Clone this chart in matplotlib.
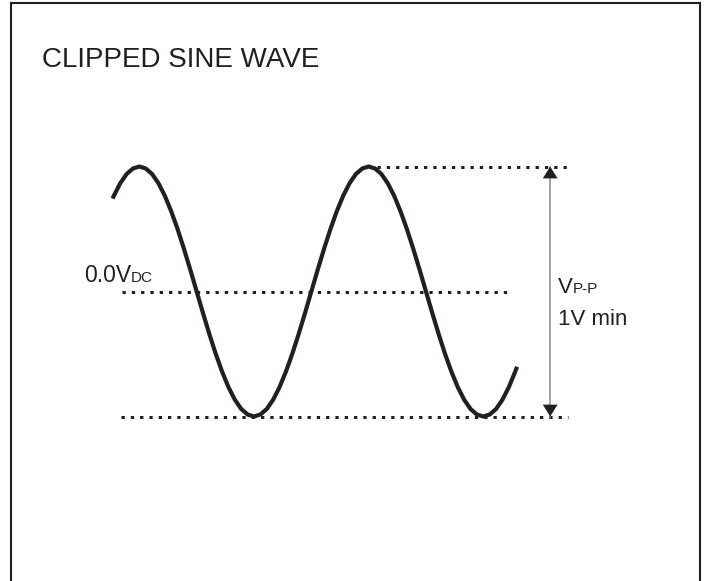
import matplotlib
matplotlib.use('Agg')
import matplotlib.pyplot as plt

# waveform: phase in degrees, level in volts
phase = [48, 50, 60, 70, 80, 90, 100, 110, 120, 130, 140, 150, 160, 170,
         180, 190, 200, 210, 220, 230, 240, 250, 260, 270, 280, 290, 300,
         310, 320, 330, 340, 350, 360, 370, 380, 390, 400, 410, 420, 430,
         440, 450, 460, 470, 480, 490, 500, 510, 520, 530, 540, 550, 560,
         570, 580, 590, 600, 610, 620, 630, 640, 650, 660, 670, 680, 683]
volts = [0.372, 0.383, 0.433, 0.470, 0.492, 0.500, 0.492, 0.470, 0.433,
         0.383, 0.321, 0.250, 0.171, 0.087, 0.000, -0.087, -0.171, -0.250,
         -0.321, -0.383, -0.433, -0.470, -0.492, -0.500, -0.492, -0.470,
         -0.433, -0.383, -0.321, -0.250, -0.171, -0.087, 0.000, 0.087,
         0.171, 0.250, 0.321, 0.383, 0.433, 0.470, 0.492, 0.500, 0.492,
         0.470, 0.433, 0.383, 0.321, 0.250, 0.171, 0.087, 0.000, -0.087,
         -0.171, -0.250, -0.321, -0.383, -0.433, -0.470, -0.492, -0.500,
         -0.492, -0.470, -0.433, -0.383, -0.321, -0.301]

v_peak = 0.5
v_dc = 0.0
v_trough = -0.5

title = 'CLIPPED SINE WAVE'
dc_label = ('0.0V', 'DC')
pp_label = ('V', 'P-P')
min_label = '1V min'

ink = '#231f20'
plt.rcParams['font.family'] = ['Liberation Sans', 'DejaVu Sans']

fig = plt.figure(figsize=(7.07, 5.81), dpi=100)
fig.patch.set_facecolor('white')

# the frame is the axes box, bottom edge runs off the page
ax = fig.add_axes([11 / 707, -0.02, 689 / 707, 1.0148])
ax.set_xlim(-111.5, 970.2)
ax.set_ylim(-1.2044, 1.154)
ax.set_xticks([])
ax.set_yticks([])
ax.spines['bottom'].set_visible(False)
for side in ['top', 'left', 'right']:
    ax.spines[side].set_color(ink)
    ax.spines[side].set_linewidth(1.5)

# wave
ax.plot(phase, volts, color=ink, linewidth=3.0, solid_capstyle='butt',
        solid_joinstyle='round')

# dotted reference levels
dots = dict(color=ink, linewidth=2.16, linestyle=(0, (1.1, 2.0)),
            dash_capstyle='butt')
ax.plot([463, 763], [v_peak, v_peak], **dots)
ax.plot([62.8, 672], [v_dc, v_dc], **dots)
ax.plot([61, 763], [v_trough, v_trough], **dots)

# peak-to-peak arrow: grey shaft, black heads
ax.plot([735, 735], [v_peak, v_trough], color='#8a8a8a', linewidth=1.1)
head = dict(arrowstyle='-|>,head_length=0.45,head_width=0.28', fc=ink,
            ec=ink, lw=0, shrinkA=0, shrinkB=0, mutation_scale=19)
ax.annotate('', xy=(735, v_peak), xytext=(735, v_dc), arrowprops=head)
ax.annotate('', xy=(735, v_trough), xytext=(735, v_dc), arrowprops=head)

# labels
ax.text(-62.8, 0.898, title, fontsize=20, color=ink, va='baseline')

t0 = ax.text(3.1, 0.038, dc_label[0], fontsize=16.5, color=ink, va='baseline')
ax.annotate(dc_label[1], xy=(1, 0), xycoords=t0, xytext=(0, 0.21 * 16.5),
            textcoords='offset points', fontsize=11, color=ink, va='baseline')

t1 = ax.text(747, -0.006, pp_label[0], fontsize=16, color=ink, va='baseline')
ax.annotate(pp_label[1], xy=(1, 0), xycoords=t1, xytext=(0, 0.21 * 16),
            textcoords='offset points', fontsize=11, color=ink, va='baseline')

ax.text(747, -0.134, min_label, fontsize=16, color=ink, va='baseline')

plt.savefig('out.png', dpi=100, facecolor=fig.get_facecolor())
